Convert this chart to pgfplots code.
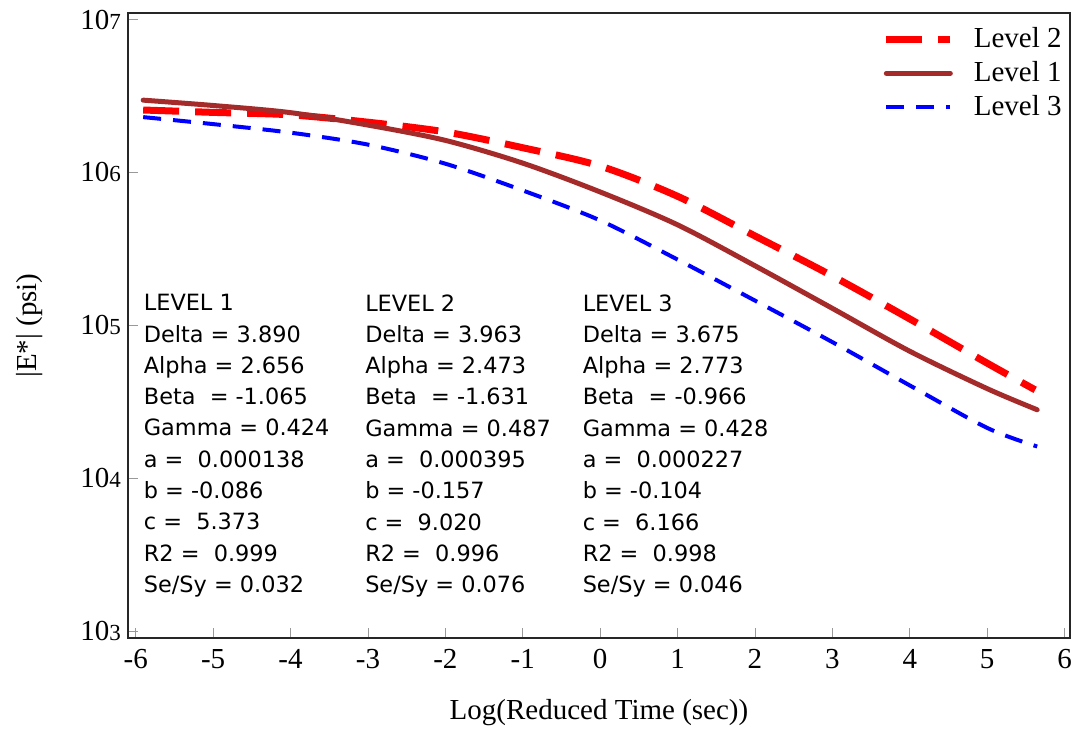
\documentclass[border=0pt]{standalone}
\usepackage{fontspec}
\setmainfont{Liberation Serif}
\newfontfamily\annfont{DejaVu Sans}
\usepackage{pgfplots}
\pgfplotsset{compat=1.18}
\definecolor{lvlbrown}{RGB}{165,42,42}

\newcommand{\tenexp}[1]{10{\fontsize{11.5}{12}\selectfont #1}}

\begin{document}
\begin{tikzpicture}
\begin{axis}[
    name=ax,
    scale only axis,
    width=471pt, height=312.5pt,
    xmin=-6.1, xmax=6.07,
    ymode=log,
    ymin=10^2.954, ymax=10^7.043,
    xtick={-6,-5,-4,-3,-2,-1,0,1,2,3,4,5,6},
    xticklabels={-6,-5,-4,-3,-2,-1,0,1,2,3,4,5,6},
    ytick={1e3,1e4,1e5,1e6,1e7},
    yticklabels={\tenexp{3},\tenexp{4},\tenexp{5},\tenexp{6},\tenexp{7}},
    minor tick length=0pt,
    xtick pos=bottom, ytick pos=left,
    tick align=inside,
    major tick length=5pt,
    tick style={gray!80, thin},
    axis line style={black!85, line width=1.1pt},
    ticklabel style={font=\fontsize{14.5}{16}\selectfont},
    xticklabel style={yshift=-2pt},
    label style={font=\fontsize{14.5}{16}\selectfont},
    xlabel={Log(Reduced Time (sec))},
    ylabel={|E*| (psi)},
    xlabel style={at={(axis description cs:0.5,-0.12)}, anchor=center},
    ylabel style={at={(axis description cs:-0.104,0.5)}, anchor=center},
    legend style={at={(axis description cs:1,0.99)}, anchor=north east,
        draw=none, fill=none, font=\fontsize{14.5}{16}\selectfont,
        row sep=1.5pt, inner sep=2pt,
        /tikz/every odd column/.append style={column sep=8pt}},
    legend cell align=left,
    legend image code/.code={\draw[#1] (0pt,0pt) -- (32pt,0pt);},
]
% Level 2
\addplot[red, line width=3.5pt, dash pattern=on 18pt off 8pt, smooth, tension=0.5] coordinates {
(-5.904,2.56e6) (-5,2.47e6) (-4,2.38e6) (-3,2.13e6) (-2,1.84e6) (-1,1.45e6)
(0,1.10e6) (1,6.98e5) (2,3.84e5) (3,2.10e5) (4,1.10e5) (5,5.65e4) (5.62,3.78e4)
};
\addlegendentry{Level 2}
% Level 1
\addplot[lvlbrown, line width=2.5pt, line cap=round, smooth, tension=0.5] coordinates {
(-5.904,2.97e6) (-5,2.74e6) (-4,2.46e6) (-3,2.04e6) (-2,1.62e6) (-1,1.15e6)
(0,7.45e5) (1,4.54e5) (2,2.45e5) (3,1.29e5) (4,6.76e4) (5,3.85e4) (5.646,2.80e4)
};
\addlegendentry{Level 1}
% Level 3
\addplot[blue, line width=2pt, dash pattern=on 9pt off 6pt, smooth, tension=0.5] coordinates {
(-5.904,2.30e6) (-5,2.07e6) (-4,1.82e6) (-3,1.52e6) (-2,1.14e6) (-1,7.62e5)
(0,4.85e5) (1,2.69e5) (2,1.45e5) (3,7.76e4) (4,4.04e4) (5,2.13e4) (5.646,1.61e4)
};
\addlegendentry{Level 3}

\node[anchor=north west, inner sep=0pt, align=left,
      font=\annfont\fontsize{11.2}{15.65}\selectfont]
  at (axis cs:-5.90,1.6e5)
  {LEVEL 1\\Delta = 3.890\\Alpha = 2.656\\Beta\ \ = -1.065\\Gamma = 0.424\\
   a =\ \ 0.000138\\b = -0.086\\c =\ \ 5.373\\R2 =\ \ 0.999\\Se/Sy = 0.032};
\node[anchor=north west, inner sep=0pt, align=left,
      font=\annfont\fontsize{11.2}{15.65}\selectfont]
  at (axis cs:-3.04,1.6e5)
  {LEVEL 2\\Delta = 3.963\\Alpha = 2.473\\Beta\ \ = -1.631\\Gamma = 0.487\\
   a =\ \ 0.000395\\b = -0.157\\c =\ \ 9.020\\R2 =\ \ 0.996\\Se/Sy = 0.076};
\node[anchor=north west, inner sep=0pt, align=left,
      font=\annfont\fontsize{11.2}{15.65}\selectfont]
  at (axis cs:-0.23,1.6e5)
  {LEVEL 3\\Delta = 3.675\\Alpha = 2.773\\Beta\ \ = -0.966\\Gamma = 0.428\\
   a =\ \ 0.000227\\b = -0.104\\c =\ \ 6.166\\R2 =\ \ 0.998\\Se/Sy = 0.046};
\end{axis}
\pgfresetboundingbox
\path[use as bounding box] ([shift={(-64pt,-45pt)}]ax.south west)
    rectangle ([shift={(0.5pt,6.5pt)}]ax.north east);
\end{tikzpicture}
\end{document}
